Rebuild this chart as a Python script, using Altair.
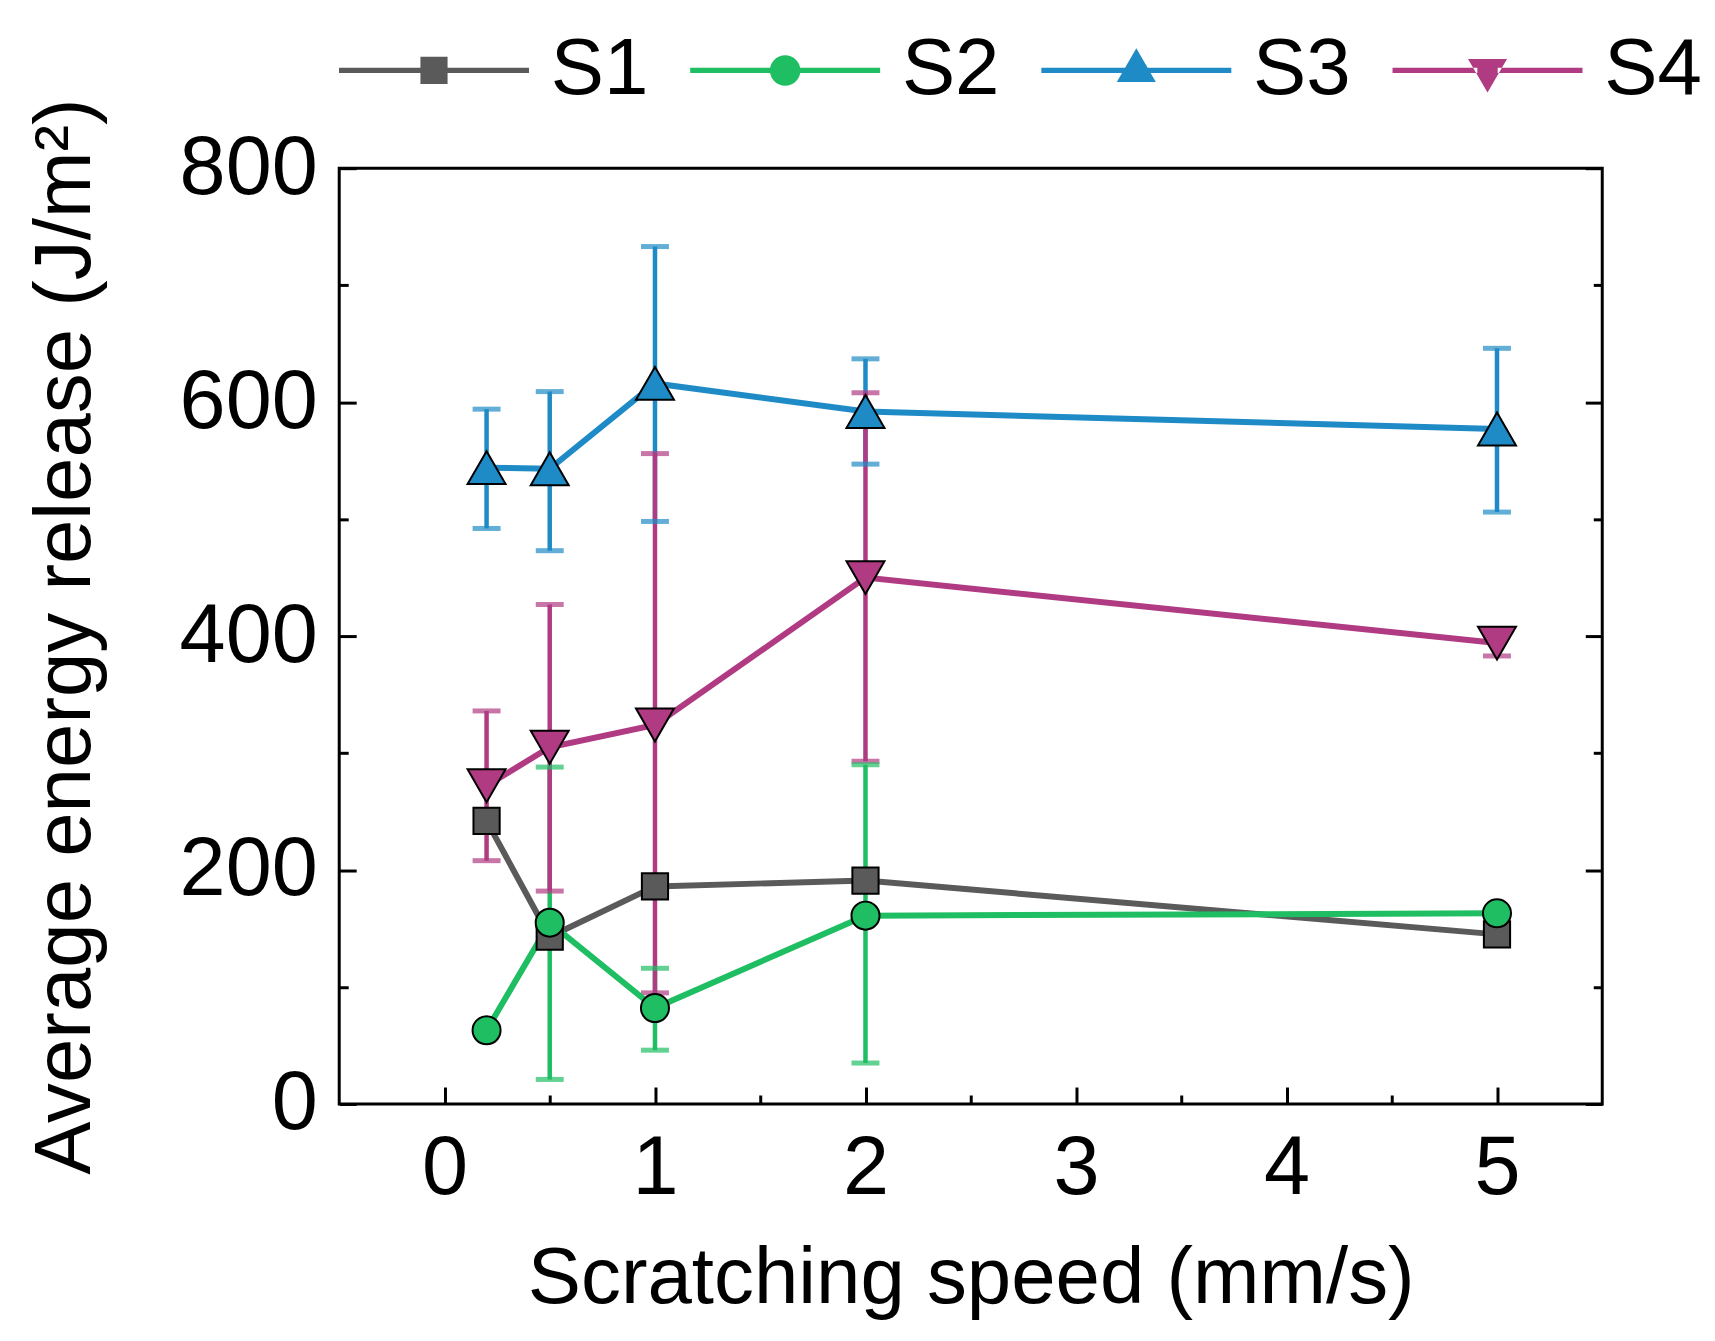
import altair as alt
import pandas as pd

FONT = "Liberation Sans"

speeds = [0.2, 0.5, 1, 2, 5]
series_names = ["S1", "S2", "S3", "S4"]
series_colors = ["#5a5a5a", "#1fbe62", "#1f8bc6", "#b03b83"]
marker_shapes = ["square", "circle", "triangle-up", "triangle-down"]
marker_sizes = [690, 790, 1450, 1450]

values = {
    "S1": [242, 143, 186, 191, 145],
    "S2": [63, 155, 82, 161, 163],
    "S3": [544, 543, 616, 592, 577],
    "S4": [272, 305, 324, 450, 394],
}
err_low = {
    "S1": [None, None, None, None, None],
    "S2": [None, 21, 46, 35, None],
    "S3": [492, 473, 498, 547, 506],
    "S4": [208, 182, 95, 293, 383],
}
err_high = {
    "S1": [None, None, None, None, None],
    "S2": [None, 288, 116, 290, None],
    "S3": [594, 609, 733, 637, 646],
    "S4": [336, 427, 556, 608, 405],
}

x_major = [0, 1, 2, 3, 4, 5]
x_minor = [0.5, 1.5, 2.5, 3.5, 4.5]
y_major = [0, 200, 400, 600, 800]
y_minor = [100, 300, 500, 700]

rows = []
err_rows = []
for s in series_names:
    for i, sp in enumerate(speeds):
        rows.append({"series": s, "speed": sp, "value": values[s][i]})
        if err_low[s][i] is not None:
            err_rows.append({"series": s, "speed": sp, "lo": err_low[s][i], "hi": err_high[s][i]})
df = pd.DataFrame(rows)
edf = pd.DataFrame(err_rows)

# legend symbols: line (as thin filled bars) + marker
LINE = "M-5.6,-0.15H-0.6V0.15H-5.6ZM0.6,-0.15H5.6V0.15H0.6Z"
legend_paths = [
    LINE + "M-0.8,-0.8H0.8V0.8H-0.8Z",
    LINE + "M-0.9,0A0.9,0.9,0,1,1,0.9,0A0.9,0.9,0,1,1,-0.9,0Z",
    LINE + "M-1.15,0.68L0,-1.3L1.15,0.68Z",
    LINE + "M-1.15,-0.68L0,1.3L1.15,-0.68Z",
]

x_scale = alt.Scale(domain=[-0.5, 5.5], nice=False, zero=False)
y_scale = alt.Scale(domain=[0, 800], nice=False)
color_scale = alt.Scale(domain=series_names, range=series_colors)

common = dict(
    domain=False, grid=False, tickColor="black", tickWidth=3,
    labelFont=FONT, titleFont=FONT, labelFontSize=83, titleFontSize=80,
    titleFontWeight="normal", labelColor="black", titleColor="black",
)

x_axis_major = alt.Axis(
    orient="bottom", values=x_major, title="Scratching speed (mm/s)",
    tickSize={"expr": "-17"}, labelPadding=41, titlePadding=29, labelFlush=False,
    **common,
)
x_axis_minor = alt.Axis(
    orient="bottom", values=x_minor, title=None, labels=False,
    tickSize={"expr": "-9"}, domain=False, grid=False, tickColor="black", tickWidth=3,
)
y_axis_left_major = alt.Axis(
    orient="left", values=y_major, title="Average energy release (J/m²)",
    tickSize={"expr": "-17"}, labelPadding=39, titlePadding=73, labelFlush=False,
    **common,
)
y_axis_left_minor = alt.Axis(
    orient="left", values=y_minor, title=None, labels=False,
    tickSize={"expr": "-9"}, domain=False, grid=False, tickColor="black", tickWidth=3,
)
y_axis_right_major = alt.Axis(
    orient="right", values=y_major, title=None, labels=False,
    tickSize={"expr": "-17"}, domain=False, grid=False, tickColor="black", tickWidth=3,
)
y_axis_right_minor = alt.Axis(
    orient="right", values=y_minor, title=None, labels=False,
    tickSize={"expr": "-9"}, domain=False, grid=False, tickColor="black", tickWidth=3,
)

legend = alt.Legend(
    orient="top", direction="horizontal", title=None,
    labelFont=FONT, labelFontSize=80, labelColor="black", labelLimit=0,
    symbolSize=1156, symbolStrokeWidth=0, symbolOffset=55, labelOffset=77,
    columnPadding=41, offset=58,
)

legend_layer = alt.Chart(df).transform_filter("false").mark_point(
    filled=True, opacity=1, strokeWidth=0, size=1156
).encode(
    x=alt.X("speed:Q", scale=x_scale, axis=None),
    y=alt.Y("value:Q", scale=y_scale, axis=None),
    color=alt.Color("series:N", scale=color_scale, legend=legend),
    shape=alt.Shape("series:N", scale=alt.Scale(domain=series_names, range=legend_paths), legend=legend),
)

err_rule = alt.Chart(edf).mark_rule(strokeWidth=4.5).encode(
    x=alt.X("speed:Q", scale=x_scale, axis=x_axis_major),
    y=alt.Y("lo:Q", scale=y_scale, axis=y_axis_left_major),
    y2="hi:Q",
    color=alt.Color("series:N", scale=color_scale),
)
cap_lo = alt.Chart(edf).mark_tick(orient="horizontal", size=28, thickness=5).encode(
    x=alt.X("speed:Q", scale=x_scale, axis=x_axis_minor),
    y=alt.Y("lo:Q", scale=y_scale, axis=y_axis_left_minor),
    color=alt.Color("series:N", scale=color_scale),
)
cap_hi = alt.Chart(edf).mark_tick(orient="horizontal", size=28, thickness=5).encode(
    x=alt.X("speed:Q", scale=x_scale, axis=None),
    y=alt.Y("hi:Q", scale=y_scale, axis=y_axis_right_major),
    color=alt.Color("series:N", scale=color_scale),
)
lines = alt.Chart(df).mark_line(strokeWidth=6).encode(
    x=alt.X("speed:Q", scale=x_scale, axis=None),
    y=alt.Y("value:Q", scale=y_scale, axis=y_axis_right_minor),
    color=alt.Color("series:N", scale=color_scale),
    order="speed:Q",
)

point_layers = []
for s, shp, sz in zip(series_names, marker_shapes, marker_sizes):
    point_layers.append(
        alt.Chart(df).transform_filter(alt.datum.series == s).mark_point(
            filled=True, opacity=1, stroke="black", strokeWidth=2, shape=shp, size=sz
        ).encode(
            x=alt.X("speed:Q", scale=x_scale, axis=None),
            y=alt.Y("value:Q", scale=y_scale, axis=None),
            color=alt.Color("series:N", scale=color_scale),
        )
    )

chart = alt.layer(legend_layer, err_rule, cap_lo, cap_hi, lines, *point_layers).resolve_axis(
    x="independent", y="independent"
).properties(
    width=1266, height=938,
    padding={"left": 17, "top": 21, "right": 5, "bottom": 10},
    background="white",
).configure_view(stroke="black", strokeWidth=3)

chart.save("out.html", embed_options={"renderer": "svg", "actions": False})
